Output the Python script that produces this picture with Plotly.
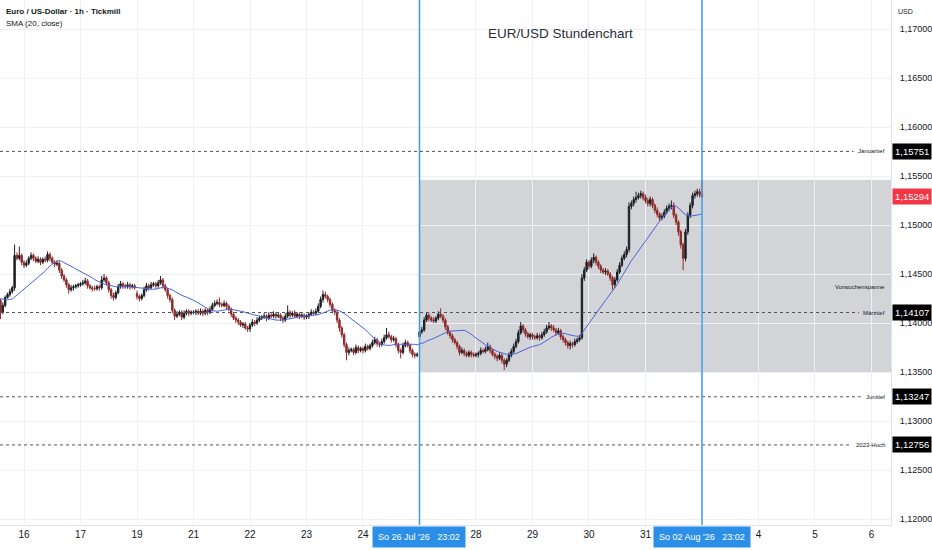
import plotly.graph_objects as go
import pandas as pd

# ---------------- data ----------------
bars_per_day = 24
first_bar = -10
day_labels = ["16", "17", "19", "21", "22", "23", "24", "", "28", "29", "30", "31", "", "4", "5", "6"]

# closes before the visible window (only used to warm up the SMA)
closes_prior = [1.1431, 1.1428, 1.1433, 1.1429, 1.1425, 1.1427, 1.1430, 1.1426, 1.1422, 1.1424,
                1.1428, 1.1425, 1.1421, 1.1423, 1.1426, 1.1424, 1.1420, 1.1422, 1.1425, 1.1423]

closes_lead = [1.1411, 1.1418, 1.1426, 1.1429, 1.1432, 1.1436, 1.1469, 1.1466, 1.1469, 1.1462]
closes_jul16 = [1.1459, 1.1461, 1.1466, 1.1469, 1.1466, 1.1463, 1.1465, 1.1462, 1.1465, 1.1464, 1.1470, 1.1466,
                1.1462, 1.1460, 1.1461, 1.1454, 1.1448, 1.1444, 1.1439, 1.1434, 1.1436, 1.1437, 1.1438, 1.1439]
closes_jul17 = [1.1440, 1.1441, 1.1443, 1.1438, 1.1436, 1.1435, 1.1435, 1.1437, 1.1436, 1.1444, 1.1446, 1.1441,
                1.1434, 1.1428, 1.1426, 1.1431, 1.1437, 1.1440, 1.1438, 1.1437, 1.1439, 1.1437, 1.1438, 1.1436]
closes_jul19 = [1.1427, 1.1425, 1.1428, 1.1434, 1.1438, 1.1436, 1.1439, 1.1440, 1.1438, 1.1441, 1.1444, 1.1438,
                1.1434, 1.1428, 1.1424, 1.1413, 1.1407, 1.1409, 1.1411, 1.1406, 1.1410, 1.1412, 1.1410, 1.1411]
closes_jul21 = [1.1411, 1.1412, 1.1410, 1.1412, 1.1410, 1.1413, 1.1411, 1.1414, 1.1418, 1.1420, 1.1421, 1.1419,
                1.1418, 1.1420, 1.1417, 1.1414, 1.1409, 1.1405, 1.1403, 1.1401, 1.1398, 1.1399, 1.1395, 1.1394]
closes_jul22 = [1.1398, 1.1401, 1.1400, 1.1403, 1.1405, 1.1406, 1.1407, 1.1405, 1.1408, 1.1407, 1.1409, 1.1407,
                1.1408, 1.1405, 1.1403, 1.1407, 1.1411, 1.1408, 1.1410, 1.1407, 1.1409, 1.1407, 1.1408, 1.1406]
closes_jul23 = [1.1407, 1.1409, 1.1411, 1.1410, 1.1412, 1.1417, 1.1424, 1.1429, 1.1427, 1.1424, 1.1419, 1.1413,
                1.1411, 1.1403, 1.1395, 1.1388, 1.1378, 1.1370, 1.1372, 1.1373, 1.1370, 1.1375, 1.1372, 1.1374]
closes_jul24 = [1.1372, 1.1376, 1.1374, 1.1377, 1.1380, 1.1383, 1.1379, 1.1378, 1.1381, 1.1385, 1.1388, 1.1386,
                1.1383, 1.1384, 1.1378, 1.1372, 1.1370, 1.1377, 1.1380, 1.1377, 1.1372, 1.1368, 1.1367, 1.1368]
closes_jul27 = [1.1391, 1.1393, 1.1403, 1.1408, 1.1405, 1.1403, 1.1402, 1.1405, 1.1409, 1.1407, 1.1403, 1.1396,
                1.1390, 1.1387, 1.1383, 1.1380, 1.1376, 1.1370, 1.1372, 1.1369, 1.1367, 1.1370, 1.1368, 1.1367]
closes_jul28 = [1.1368, 1.1369, 1.1372, 1.1371, 1.1373, 1.1376, 1.1372, 1.1368, 1.1366, 1.1364, 1.1367, 1.1362,
                1.1358, 1.1362, 1.1367, 1.1371, 1.1376, 1.1381, 1.1390, 1.1397, 1.1393, 1.1389, 1.1386, 1.1388]
closes_jul29 = [1.1386, 1.1385, 1.1387, 1.1385, 1.1388, 1.1391, 1.1395, 1.1397, 1.1395, 1.1393, 1.1390, 1.1392,
                1.1386, 1.1383, 1.1380, 1.1377, 1.1379, 1.1378, 1.1381, 1.1383, 1.1385, 1.1446, 1.1454, 1.1462]
closes_jul30 = [1.1458, 1.1464, 1.1467, 1.1462, 1.1458, 1.1454, 1.1452, 1.1453, 1.1450, 1.1446, 1.1439, 1.1444,
                1.1452, 1.1459, 1.1466, 1.1470, 1.1475, 1.1519, 1.1522, 1.1526, 1.1528, 1.1530, 1.1532, 1.1528]
closes_jul31 = [1.1525, 1.1522, 1.1526, 1.1520, 1.1515, 1.1511, 1.1507, 1.1509, 1.1513, 1.1517, 1.1519, 1.1520,
                1.1510, 1.1503, 1.1493, 1.1480, 1.1466, 1.1493, 1.1510, 1.1520, 1.1530, 1.1532, 1.1534, 1.1531]
closes_aug02 = [1.15294]

# session opening prices after weekend gaps (bar index -> open)
session_opens = {48: 1.1430, 168: 1.1386}

# wick lengths in pips (upper / lower), per bar
wick_hi = [2, 3, 2, 2, 3, 2, 11, 3, 9, 2,
           2, 3, 2, 3, 2, 2, 3, 2, 2, 3, 3, 2, 2, 2, 3, 2, 2, 2, 2, 2, 3, 2, 2, 2,
           2, 3, 3, 2, 2, 2, 3, 2, 2, 4, 4, 2, 2, 2, 3, 2, 3, 3, 2, 2, 3, 2, 2, 2,
           3, 2, 2, 3, 3, 2, 3, 2, 2, 3, 4, 2, 2, 2, 2, 2, 2, 3, 2, 2, 3, 2, 2, 2,
           2, 2, 2, 3, 2, 2, 2, 3, 3, 3, 3, 5, 2, 3, 2, 2, 2, 2, 2, 2, 2, 2, 2, 2,
           2, 3, 2, 3, 2, 2, 3, 2, 3, 2, 3, 2, 2, 2, 2, 3, 7, 2, 2, 3, 2, 2, 2, 2,
           2, 2, 3, 2, 3, 3, 3, 4, 3, 2, 2, 2, 2, 2, 2, 2, 2, 2, 3, 2, 2, 3, 2, 2,
           2, 3, 2, 2, 3, 3, 2, 2, 3, 3, 7, 3, 2, 3, 2, 2, 2, 3, 3, 2, 2, 2, 2, 2,
           2, 3, 3, 3, 2, 2, 3, 2, 3, 6, 2, 2, 2, 2, 2, 2, 2, 2, 3, 2, 2, 2, 2, 2,
           2, 2, 3, 2, 3, 4, 2, 2, 2, 2, 3, 2, 2, 2, 3, 3, 3, 3, 3, 4, 2, 2, 2, 2,
           2, 2, 3, 2, 3, 3, 3, 4, 2, 3, 2, 3, 2, 2, 2, 2, 3, 2, 3, 2, 3, 4, 3, 3,
           2, 3, 4, 2, 2, 2, 2, 3, 2, 2, 2, 3, 3, 3, 3, 3, 3, 4, 3, 3, 6, 3, 3, 2,
           3, 3, 3, 2, 2, 3, 2, 3, 3, 3, 3, 5, 3, 2, 2, 2, 2, 3, 3, 3, 3, 3, 3, 3,
           15]
wick_lo = [7, 2, 2, 1, 2, 2, 3, 2, 2, 3,
           3, 2, 2, 2, 3, 2, 2, 3, 2, 2, 2, 3, 2, 3, 2, 3, 3, 2, 3, 4, 2, 3, 2, 2,
           2, 2, 2, 3, 2, 3, 2, 2, 3, 2, 2, 3, 3, 3, 3, 2, 2, 2, 3, 2, 2, 3, 2, 2,
           3, 3, 2, 2, 2, 3, 2, 2, 3, 2, 2, 3, 2, 3, 3, 3, 4, 2, 2, 3, 2, 2, 3, 2,
           2, 3, 2, 2, 3, 2, 3, 2, 2, 2, 2, 3, 2, 2, 3, 2, 3, 2, 3, 3, 2, 3, 2, 3,
           3, 2, 3, 2, 2, 2, 2, 3, 2, 2, 2, 3, 2, 3, 3, 2, 2, 3, 2, 2, 2, 3, 2, 3,
           2, 3, 2, 2, 2, 2, 2, 3, 2, 3, 3, 3, 3, 3, 4, 3, 3, 8, 3, 2, 3, 2, 3, 2,
           3, 2, 2, 2, 2, 2, 3, 3, 2, 2, 2, 2, 3, 2, 3, 3, 6, 2, 2, 2, 3, 3, 3, 2,
           3, 2, 2, 2, 3, 2, 2, 2, 2, 2, 3, 3, 2, 3, 3, 2, 3, 3, 2, 3, 2, 2, 3, 2,
           2, 3, 2, 2, 2, 2, 3, 2, 3, 3, 2, 3, 6, 3, 2, 2, 2, 2, 2, 2, 3, 3, 2, 3,
           3, 2, 2, 3, 2, 2, 2, 2, 3, 2, 3, 2, 3, 3, 3, 3, 4, 3, 2, 2, 2, 2, 3, 2,
           3, 2, 3, 3, 3, 3, 2, 3, 2, 3, 5, 3, 2, 2, 2, 2, 3, 3, 3, 3, 3, 2, 3, 3,
           3, 3, 3, 3, 3, 3, 3, 2, 2, 2, 3, 3, 3, 3, 4, 4, 12, 3, 3, 3, 3, 3, 3, 3,
           2]

# horizontal key levels
level_names = ["Januartief", "Märztief", "Junitief", "2023-Hoch"]
level_prices = [1.15751, 1.14107, 1.13247, 1.12756]
level_texts = ["1,15751", "1,14107", "1,13247", "1,12756"]
level_line_end = [0.958, 0.964, 0.966, 0.956]

# previous week range box
range_high = 1.1546
range_low = 1.1350
range_start_bar = 168

# vertical markers
marker_bars = [168, 288]
marker_texts = ["So 26 Jul '26   23:02", "So 02 Aug '26   23:02"]

last_price_text = "1,15294"
y_ticks = [1.12, 1.125, 1.13, 1.135, 1.14, 1.145, 1.15, 1.155, 1.16, 1.165, 1.17]
y_tick_text = ["1,12000", "1,12500", "1,13000", "1,13500", "1,14000", "1,14500",
               "1,15000", "1,15500", "1,16000", "1,16500", "1,17000"]

# ---------------- build ----------------
closes = (closes_lead + closes_jul16 + closes_jul17 + closes_jul19 + closes_jul21 + closes_jul22 +
          closes_jul23 + closes_jul24 + closes_jul27 + closes_jul28 + closes_jul29 + closes_jul30 +
          closes_jul31 + closes_aug02)
n = len(closes)
assert len(wick_hi) == n and len(wick_lo) == n, (n, len(wick_hi), len(wick_lo))
bars = list(range(first_bar, first_bar + n))
pip = 0.0001

opens = []
prev = closes_prior[-1]
for b, c in zip(bars, closes):
    opens.append(session_opens.get(b, prev))
    prev = c
highs = [max(o, c) + w * pip for o, c, w in zip(opens, closes, wick_hi)]
lows = [min(o, c) - w * pip for o, c, w in zip(opens, closes, wick_lo)]

sma = pd.Series(closes_prior + closes).rolling(20).mean().tolist()[len(closes_prior):]

UP = "#1c1f26"
DOWN = "#8e2a2a"
FONT = "Liberation Sans, Arial, sans-serif"
TXT = "#131722"

x_min, x_max = -10.2, 368.3
y_min, y_max = 1.11939, 1.17296

fig = go.Figure()
fig.add_trace(go.Candlestick(
    x=bars, open=opens, high=highs, low=lows, close=closes,
    increasing=dict(line=dict(color=UP, width=1), fillcolor=UP),
    decreasing=dict(line=dict(color=DOWN, width=1), fillcolor=DOWN),
    whiskerwidth=0, hoverinfo="skip", showlegend=False))
fig.add_trace(go.Scatter(x=bars, y=sma, mode="lines", line=dict(color="#4a62e0", width=1),
                         hoverinfo="skip", showlegend=False))

shapes = []
shapes.append(dict(type="rect", xref="x", yref="y", x0=range_start_bar, x1=x_max,
                   y0=range_low, y1=range_high, fillcolor="rgba(120,123,134,0.33)",
                   line=dict(width=0), layer="below"))
for p, xe in zip(level_prices, level_line_end):
    shapes.append(dict(type="line", xref="paper", yref="y", x0=0, x1=xe, y0=p, y1=p,
                       line=dict(color="#50535e", width=1, dash="3px,3px")))
for b in marker_bars:
    shapes.append(dict(type="line", xref="x", yref="paper", x0=b, x1=b, y0=0, y1=1,
                       line=dict(color="#3d9be9", width=1.5)))

ann = []
ann.append(dict(text="EUR/USD Stundenchart", xref="x", yref="paper", x=228, y=0.937,
                showarrow=False, font=dict(family=FONT, size=13.5, color="#2a2e39"),
                xanchor="center", yanchor="middle"))
ann.append(dict(text="<b>Euro / US-Dollar · 1h · Tickmill</b>", xref="paper", yref="paper",
                x=0.004, y=0.979, showarrow=False, xanchor="left", yanchor="middle",
                font=dict(family=FONT, size=8, color=TXT)))
ann.append(dict(text="SMA (20, close)", xref="paper", yref="paper", x=0.004, y=0.956,
                showarrow=False, xanchor="left", yanchor="middle",
                font=dict(family=FONT, size=8, color=TXT)))
ann.append(dict(text="USD", xref="paper", yref="paper", x=1.0, y=0.979, xshift=5,
                showarrow=False, xanchor="left", yanchor="middle",
                font=dict(family=FONT, size=7, color=TXT)))
for name, p, t in zip(level_names, level_prices, level_texts):
    ann.append(dict(text=name, xref="paper", yref="y", x=0.996, y=p, showarrow=False,
                    xanchor="right", yanchor="middle", font=dict(family=FONT, size=6, color=TXT)))
    ann.append(dict(text=t, xref="paper", yref="y", x=1.0, y=p, xshift=1, showarrow=False,
                    xanchor="left", yanchor="middle", bgcolor="#000000", borderpad=2,
                    font=dict(family=FONT, size=9.5, color="#ffffff")))
ann.append(dict(text="Vorwochenspanne", xref="paper", yref="y", x=0.996, y=1.14368,
                showarrow=False, xanchor="right", yanchor="middle",
                font=dict(family=FONT, size=6, color=TXT)))
ann.append(dict(text=last_price_text, xref="paper", yref="y", x=1.0, y=closes[-1], xshift=1,
                showarrow=False, xanchor="left", yanchor="middle", bgcolor="#f23645", borderpad=2,
                font=dict(family=FONT, size=9.5, color="#ffffff")))
for b, t in zip(marker_bars, marker_texts):
    ann.append(dict(text=t, xref="x", yref="paper", x=b, y=0, yshift=-1, showarrow=False,
                    xanchor="center", yanchor="top", bgcolor="#2b8fe8", borderpad=5,
                    font=dict(family=FONT, size=9, color="#ffffff")))

fig.update_layout(
    width=932, height=550, margin=dict(l=0, r=41, t=0, b=25, autoexpand=False),
    paper_bgcolor="#ffffff", plot_bgcolor="#ffffff", boxgap=0.15,
    shapes=shapes, annotations=ann, showlegend=False,
    xaxis=dict(range=[x_min, x_max], rangeslider=dict(visible=False), automargin=False,
               tickvals=[k * bars_per_day for k in range(len(day_labels))], ticktext=day_labels,
               showgrid=True, gridcolor="#eef0f4", gridwidth=1, zeroline=False,
               showline=True, linecolor="#e0e3eb", ticks="",
               tickfont=dict(family=FONT, size=10, color=TXT)),
    yaxis=dict(range=[y_min, y_max], side="right", tickvals=y_ticks, ticktext=y_tick_text,
               automargin=False,
               showgrid=True, gridcolor="#eef0f4", gridwidth=1, zeroline=False,
               showline=True, linecolor="#e0e3eb", ticks="", ticklabelstandoff=6,
               tickfont=dict(family=FONT, size=9, color=TXT)),
)

fig.write_html("out.html", config={"displayModeBar": False, "staticPlot": True},
               post_script="document.body.style.margin='0px';")
